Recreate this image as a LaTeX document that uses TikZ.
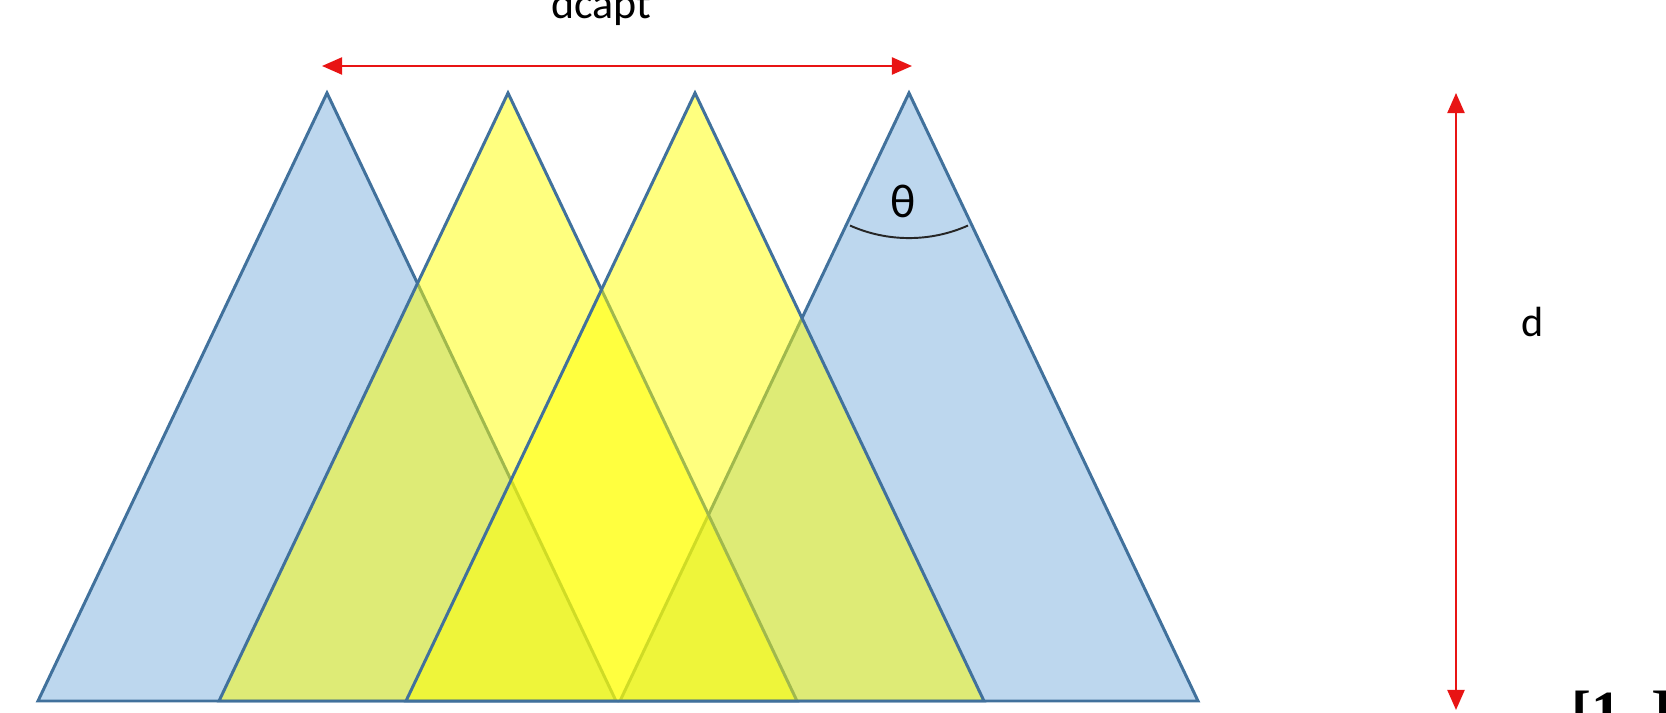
\documentclass[tikz,border=0pt]{standalone}
\usepackage{fontspec}
\setmainfont{Carlito}
\newfontfamily\reffont{Liberation Serif}
\usetikzlibrary{arrows.meta,calc}
\definecolor{triblue}{RGB}{189,215,238}
\definecolor{triedge}{RGB}{65,113,156}
\definecolor{triyellow}{RGB}{255,255,0}
\definecolor{dimred}{RGB}{232,20,20}

\begin{document}
\begin{tikzpicture}[
  x=0.01cm, y=-0.01cm,
  font=\fontsize{12}{14}\selectfont,
  bluetri/.style={fill=triblue, draw=triedge, line width=0.85pt},
  yellowtri/.style={fill=triyellow, fill opacity=0.5, draw=triedge, line width=0.85pt},
  dim/.style={{Triangle[length=2mm,width=1.7mm]}-{Triangle[length=2mm,width=1.7mm]},
              dimred, line width=0.6pt},
  lbl/.style={inner sep=0pt}
]
  \useasboundingbox (0,0) rectangle (1666,713);

  \coordinate (a1) at (327,93);  \coordinate (l1) at (38,701);  \coordinate (r1) at (616,701);
  \coordinate (a2) at (508,93);  \coordinate (l2) at (219,701); \coordinate (r2) at (797,701);
  \coordinate (a3) at (695,93);  \coordinate (l3) at (406,701); \coordinate (r3) at (984,701);
  \coordinate (a4) at (909,93);  \coordinate (l4) at (620,701); \coordinate (r4) at (1198,701);

  \draw[bluetri]   (l1) -- (a1) -- (r1) -- cycle;
  \draw[bluetri]   (l4) -- (a4) -- (r4) -- cycle;
  \draw[yellowtri] (l2) -- (a2) -- (r2) -- cycle;
  \draw[yellowtri] (l3) -- (a3) -- (r3) -- cycle;

  \draw[black!85, line width=0.55pt] ($(a4)+(246:1.45cm)$) arc[start angle=246, end angle=294, radius=1.45cm];
  \node[lbl] (theta) at (903,201) {\fontsize{13.5}{15}\selectfont θ};

  \coordinate (capl) at (322,66);  \coordinate (capr) at (912,66);
  \draw[dim] (capl) -- (capr);
  \node[lbl, anchor=base] (dcapt) at (601,19) {\fontsize{12.5}{14}\selectfont dcapt};

  \coordinate (dtop) at (1456,93); \coordinate (dbot) at (1456,710);
  \draw[dim] (dtop) -- (dbot);
  \node[lbl] (dlab) at (1533,322) {d};

  \node[lbl, anchor=north west] (ref) at (1571,690) {\reffont\fontsize{17}{20}\selectfont\bfseries [1, ]};
\end{tikzpicture}
\end{document}
